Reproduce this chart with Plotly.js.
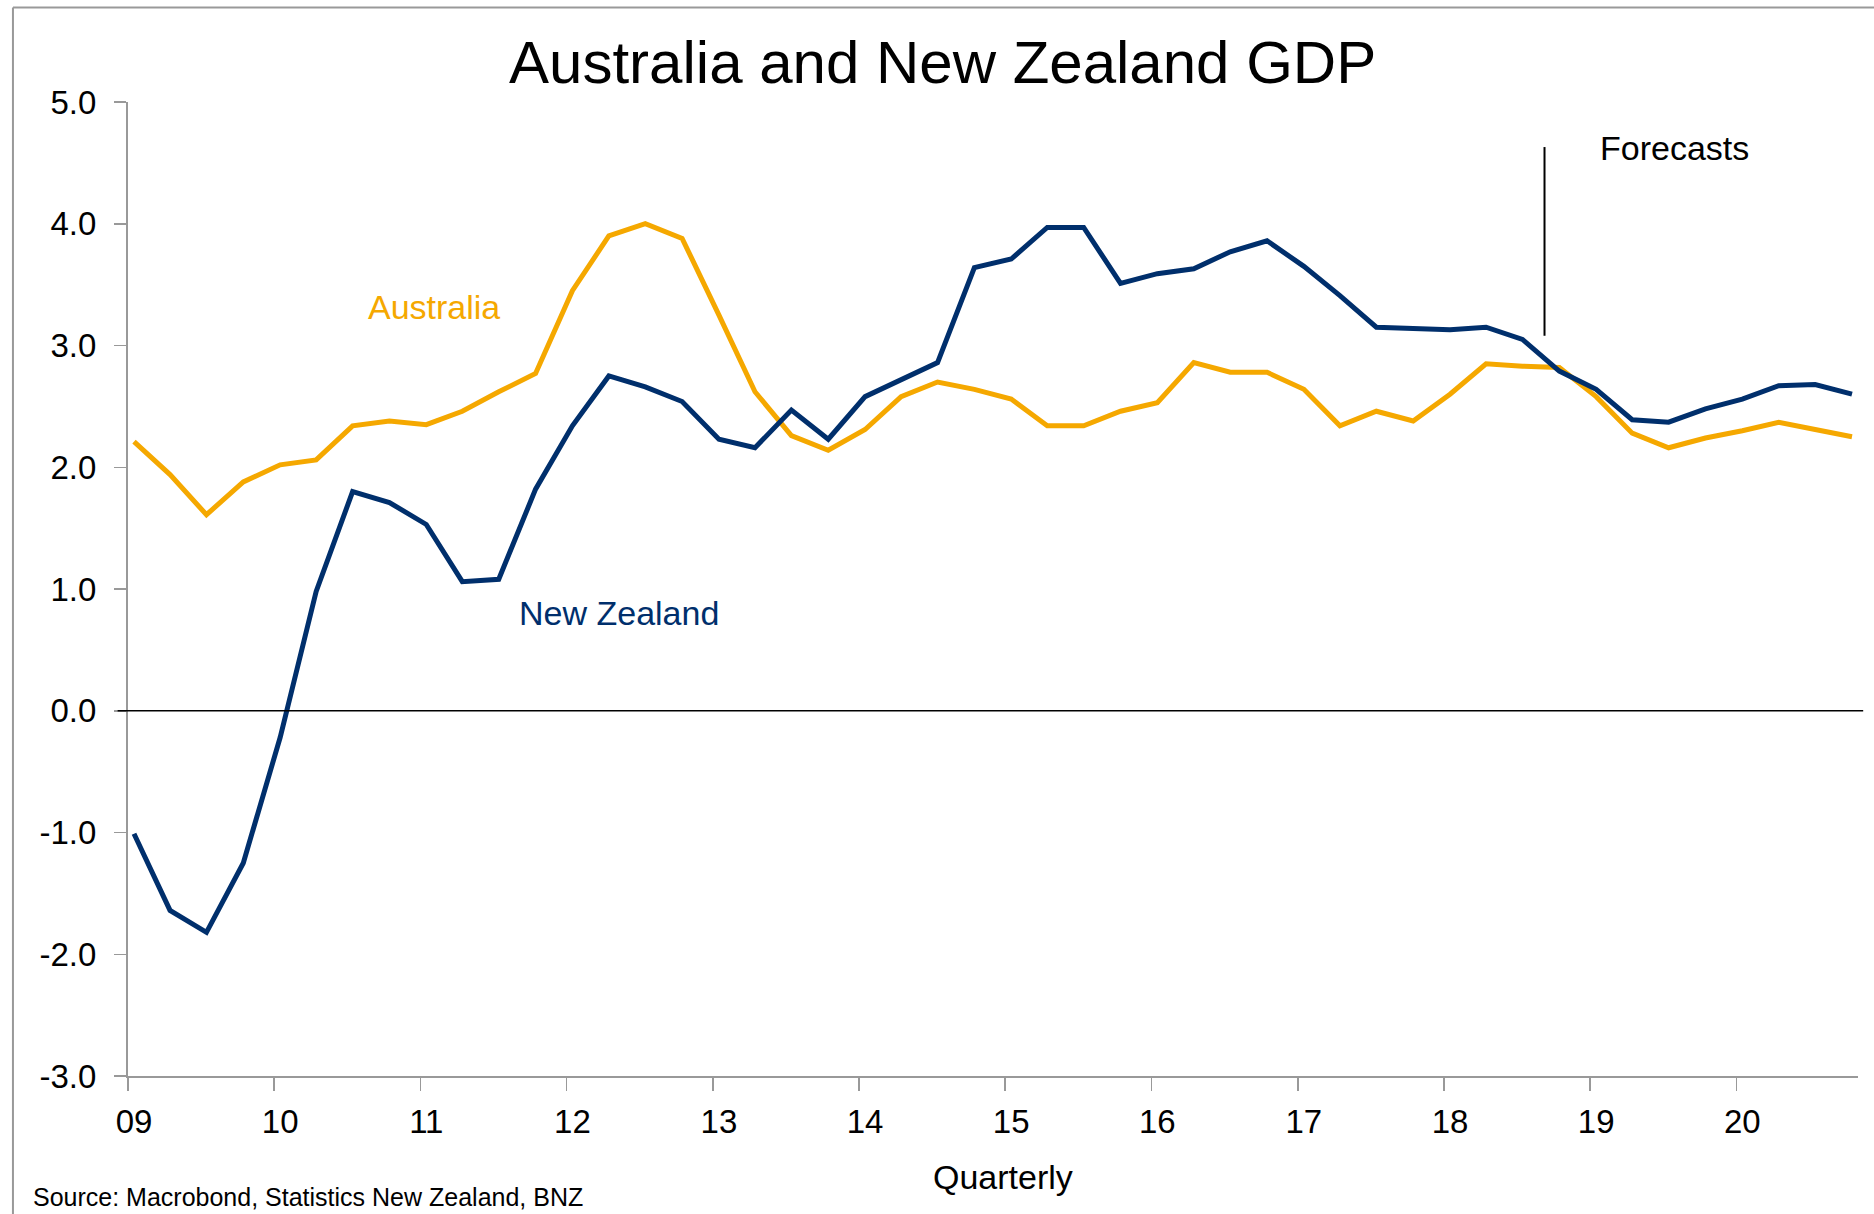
<!DOCTYPE html>
<html>
<head>
<meta charset="utf-8">
<script src="https://cdn.plot.ly/plotly-3.0.1.min.js"></script>
<style>html,body{margin:0;padding:0;background:#fff;}#chart{width:1874px;height:1214px;}</style>
</head>
<body>
<div id="chart"></div>
<script>
// Quarterly observation dates (as plotted in the source chart)
const dates = [
  "2009-01-16","2009-04-16","2009-07-16","2009-10-16",
  "2010-01-16","2010-04-16","2010-07-16","2010-10-16",
  "2011-01-16","2011-04-16","2011-07-16","2011-10-16",
  "2012-01-16","2012-04-16","2012-07-16","2012-10-16",
  "2013-01-16","2013-04-16","2013-07-16","2013-10-16",
  "2014-01-16","2014-04-16","2014-07-16","2014-10-16",
  "2015-01-16","2015-04-16","2015-07-16","2015-10-16",
  "2016-01-16","2016-04-16","2016-07-16","2016-10-16",
  "2017-01-16","2017-04-16","2017-07-16","2017-10-16",
  "2018-01-16","2018-04-16","2018-07-16","2018-10-16",
  "2019-01-16","2019-04-16","2019-07-16","2019-10-16",
  "2020-01-16","2020-04-16","2020-07-16","2020-10-16"
];

const australia = [
  2.21, 1.94, 1.61, 1.88, 2.02, 2.06, 2.34, 2.38, 2.35, 2.46, 2.62, 2.77,
  3.45, 3.90, 4.00, 3.88, 3.25, 2.62, 2.26, 2.14, 2.31, 2.58, 2.70, 2.64,
  2.56, 2.34, 2.34, 2.46, 2.53, 2.86, 2.78, 2.78, 2.64, 2.34, 2.46, 2.38,
  2.60, 2.85, 2.83, 2.82, 2.58, 2.28, 2.16, 2.24, 2.30, 2.37, 2.31, 2.25
];

const newZealand = [
  -1.01, -1.64, -1.82, -1.25, -0.22, 0.98, 1.80, 1.71, 1.53, 1.06, 1.08, 1.82,
  2.34, 2.75, 2.66, 2.54, 2.23, 2.16, 2.47, 2.23, 2.58, 2.72, 2.86, 3.64,
  3.71, 3.97, 3.97, 3.51, 3.59, 3.63, 3.77, 3.86, 3.65, 3.41, 3.15, 3.14,
  3.13, 3.15, 3.05, 2.79, 2.64, 2.39, 2.37, 2.48, 2.56, 2.67, 2.68, 2.60
];

const yearTicks = ["2009-01-01","2010-01-01","2011-01-01","2012-01-01","2013-01-01","2014-01-01",
                   "2015-01-01","2016-01-01","2017-01-01","2018-01-01","2019-01-01","2020-01-01"];
const yearLabels = ["09","10","11","12","13","14","15","16","17","18","19","20"];
const yTicks = [5, 4, 3, 2, 1, 0, -1, -2, -3];
const yLabels = ["5.0","4.0","3.0","2.0","1.0","0.0","-1.0","-2.0","-3.0"];

const forecastDate = "2018-09-09";
const forecastSpan = [3.08, 4.63];

const AUS_COL = "#F5A800";
const NZ_COL = "#002F6C";
const FONT = "Liberation Sans, Arial, sans-serif";

const traces = [
  {x: dates, y: australia, type: "scatter", mode: "lines", name: "Australia",
   line: {color: AUS_COL, width: 5, shape: "linear"}, hoverinfo: "skip"},
  {x: dates, y: newZealand, type: "scatter", mode: "lines", name: "New Zealand",
   line: {color: NZ_COL, width: 5, shape: "linear"}, hoverinfo: "skip"}
];

const layout = {
  width: 1874, height: 1214,
  paper_bgcolor: "#ffffff", plot_bgcolor: "#ffffff",
  margin: {l: 128, r: 16, t: 102, b: 138, pad: 0},
  showlegend: false,
  font: {family: FONT, color: "#000"},
  title: {text: "Australia and New Zealand GDP", x: 0.503, xanchor: "center", xref: "container",
          y: 0.949, yanchor: "middle", yref: "container",
          font: {family: FONT, size: 60, color: "#000"}},
  xaxis: {
    type: "date", range: ["2009-01-01", "2020-10-31"],
    tickvals: yearTicks, ticktext: yearLabels,
    showgrid: false, zeroline: false,
    showline: true, linecolor: "#999999", linewidth: 2,
    ticks: "outside", ticklen: 13, tickwidth: 1.5, tickcolor: "#999999",
    ticklabelstandoff: 2, ticklabelshift: 6,
    tickfont: {family: FONT, size: 33, color: "#000"}
  },
  yaxis: {
    range: [-3, 5], tickvals: yTicks, ticktext: yLabels,
    showgrid: false, zeroline: false,
    showline: true, linecolor: "#999999", linewidth: 2,
    ticks: "outside", ticklen: 12, tickwidth: 1.5, tickcolor: "#999999",
    ticklabelstandoff: 11,
    tickfont: {family: FONT, size: 33, color: "#000"}
  },
  shapes: [
    {type: "line", xref: "paper", yref: "y", x0: -0.006, x1: 1.003, y0: 0, y1: 0,
     line: {color: "#000", width: 1.5}},
    {type: "line", xref: "x", yref: "y", x0: forecastDate, x1: forecastDate,
     y0: forecastSpan[0], y1: forecastSpan[1], line: {color: "#000", width: 2}},
    {type: "line", xref: "paper", yref: "paper", x0: -0.0665, x1: 1.02, y0: 1.097, y1: 1.097,
     line: {color: "#999999", width: 2}},
    {type: "line", xref: "paper", yref: "paper", x0: -0.0665, x1: -0.0665, y0: 1.097, y1: -0.15,
     line: {color: "#999999", width: 2}}
  ],
  annotations: [
    {text: "Australia", xref: "paper", yref: "y", x: 0.177, y: 3.32, showarrow: false,
     xanchor: "center", yanchor: "middle", font: {family: FONT, size: 34, color: AUS_COL}},
    {text: "New Zealand", xref: "paper", yref: "y", x: 0.284, y: 0.80, showarrow: false,
     xanchor: "center", yanchor: "middle", font: {family: FONT, size: 34, color: NZ_COL}},
    {text: "Forecasts", xref: "paper", yref: "y", x: 0.894, y: 4.62, showarrow: false,
     xanchor: "center", yanchor: "middle", font: {family: FONT, size: 34, color: "#000"}},
    {text: "Quarterly", xref: "paper", yref: "paper", x: 0.506, y: -0.104, showarrow: false,
     xanchor: "center", yanchor: "middle", font: {family: FONT, size: 34, color: "#000"}},
    {text: "Source: Macrobond, Statistics New Zealand, BNZ", xref: "paper", yref: "paper",
     x: -0.056, y: -0.124, showarrow: false, xanchor: "left", yanchor: "middle",
     font: {family: FONT, size: 25, color: "#000"}}
  ]
};

Plotly.newPlot("chart", traces, layout, {displayModeBar: false, staticPlot: true});
</script>
</body>
</html>
